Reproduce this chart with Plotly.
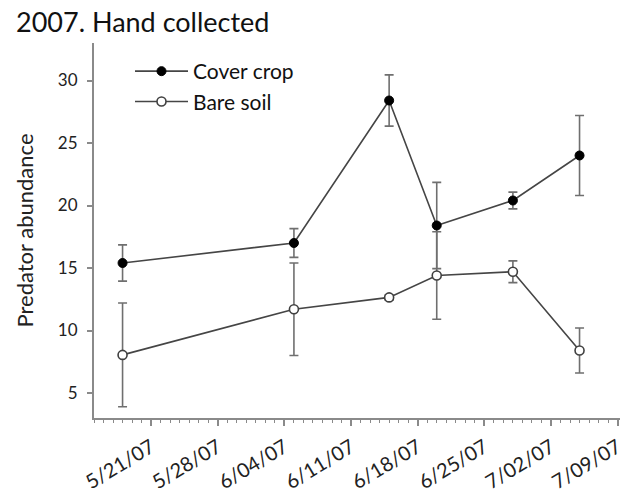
import plotly.graph_objects as go

# Data
dates = ["2007-05-18", "2007-06-05", "2007-06-15", "2007-06-20", "2007-06-28", "2007-07-05"]
cover_crop = [15.4, 17.0, 28.4, 18.4, 20.4, 24.0]
cover_err = [1.45, 1.15, 2.05, 3.45, 0.67, 3.2]
bare_soil = [8.05, 11.7, 12.65, 14.4, 14.7, 8.4]
bare_err = [4.15, 3.7, 0.2, 3.5, 0.87, 1.8]

FONT = "Lato"
LINE = "#454545"
ERR = "#6f6f6f"
AXIS = "#8a8a8a"
TXT = "#222222"

fig = go.Figure()
fig.add_trace(go.Scatter(
    x=dates, y=cover_crop, name="Cover crop", mode="lines+markers",
    line=dict(color=LINE, width=1.6),
    marker=dict(color="#000000", size=9, line=dict(color="#000000", width=1)),
    error_y=dict(type="data", array=cover_err, visible=True, color=ERR, thickness=1.6, width=4.5),
    legendgroup="a",
))
fig.add_trace(go.Scatter(
    x=dates, y=bare_soil, name="Bare soil", mode="lines+markers",
    line=dict(color=LINE, width=1.6),
    marker=dict(color="#ffffff", size=9, line=dict(color="#404040", width=1.6)),
    error_y=dict(type="data", array=bare_err, visible=True, color=ERR, thickness=1.6, width=4.5),
    legendgroup="b",
))

fig.update_layout(
    width=625, height=495,
    margin=dict(l=94, r=5, t=43, b=77),
    paper_bgcolor="white", plot_bgcolor="white",
    font=dict(family=FONT, color=TXT, size=16),
    title=dict(text="2007. Hand collected", xref="container", yref="container",
               x=16/625, xanchor="left", y=1-23/495, yanchor="middle",
               font=dict(family=FONT, size=27, color="#111111")),
    showlegend=True,
    legend=dict(x=(130-94)/526, y=1-(51-43)/375, xanchor="left", yanchor="top",
                bgcolor="rgba(0,0,0,0)", font=dict(size=21, color="#111111"),
                itemwidth=53, tracegroupgap=0),
    xaxis=dict(
        type="date", range=["2007-05-15", "2007-07-09 06:00"], automargin=False,
        tick0="2007-05-21", dtick=7*86400000, tickformat="%-m/%d/%y",
        tickangle=-31, ticks="outside", ticklen=6, tickwidth=1.5, tickcolor=AXIS,
        showline=True, linecolor=AXIS, linewidth=2, showgrid=False, zeroline=False,
        tickfont=dict(size=20, color=TXT), ticklabeloverflow="allow",
        ticklabelstandoff=2,
        minor=dict(dtick=86400000, tick0="2007-05-21", ticks="outside", ticklen=3,
                   tickwidth=1.2, tickcolor=AXIS, showgrid=False),
    ),
    yaxis=dict(
        range=[3, 33], tickvals=[5, 10, 15, 20, 25, 30], ticks="outside", ticklen=5,
        automargin=False,
        tickwidth=1.5, tickcolor=AXIS, showline=True, linecolor=AXIS, linewidth=2,
        showgrid=False, zeroline=False, tickfont=dict(size=17, color=TXT),
        ticklabelstandoff=6,
        title=dict(text="Predator abundance", font=dict(size=22, color=TXT), standoff=18),
    ),
)

fig.write_html("out.html")
